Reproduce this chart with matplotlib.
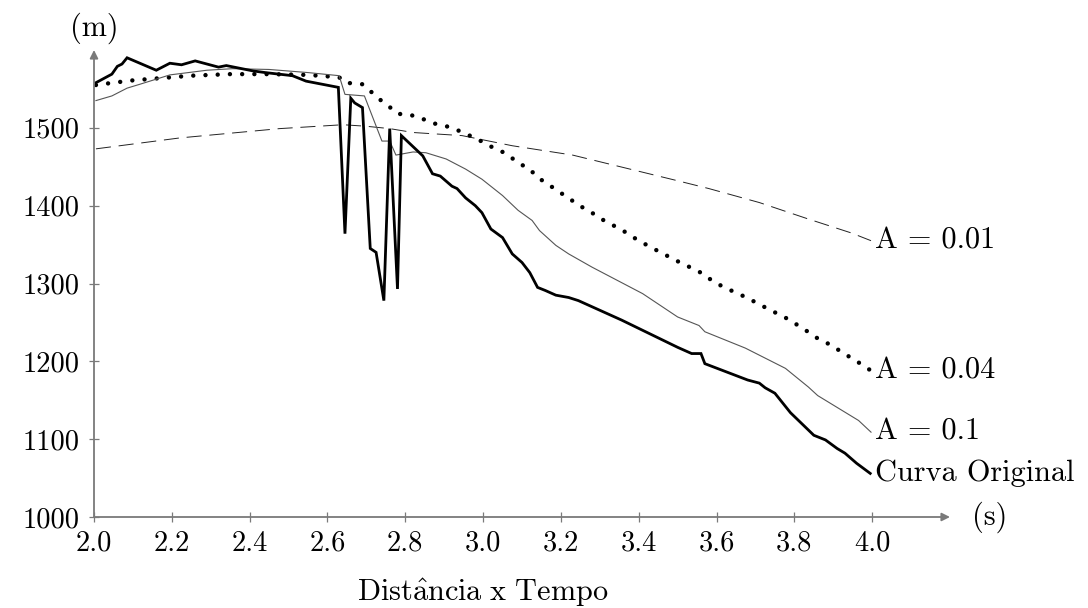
import matplotlib
matplotlib.use("Agg")
import matplotlib.pyplot as plt

plt.rcParams['font.family'] = ['cmr10', 'DejaVu Serif']
plt.rcParams['mathtext.fontset'] = 'cm'
plt.rcParams['axes.unicode_minus'] = False

# ---- data ----
orig_x = [2.005, 2.046, 2.06, 2.072, 2.085, 2.16, 2.195, 2.225, 2.26, 2.32, 2.34, 2.41, 2.44,
          2.51, 2.545, 2.628, 2.645, 2.66, 2.67, 2.69, 2.71, 2.725, 2.745, 2.76, 2.78, 2.79,
          2.845, 2.87, 2.89, 2.92, 2.933, 2.955, 2.98, 2.997, 3.02, 3.05, 3.075, 3.1, 3.12,
          3.14, 3.16, 3.187, 3.22, 3.245, 3.356, 3.5, 3.536, 3.56, 3.57, 3.68, 3.71, 3.725,
          3.75, 3.79, 3.85, 3.88, 3.91, 3.93, 3.96, 3.995]
orig_y = [1558, 1569, 1579, 1582, 1590, 1574, 1583, 1581, 1586, 1578, 1580, 1573, 1571,
          1567, 1560, 1552, 1364, 1538, 1532, 1526, 1345, 1340, 1278, 1499, 1293, 1490,
          1464, 1441, 1438, 1425, 1422, 1410, 1400, 1391, 1370, 1359, 1338, 1327, 1314,
          1295, 1291, 1285, 1282, 1278, 1253, 1218, 1210, 1210, 1197, 1176, 1172, 1166,
          1159, 1134, 1105, 1099, 1088, 1082, 1069, 1056]

a01_x = [2.005, 2.046, 2.085, 2.118, 2.195, 2.29, 2.356, 2.45, 2.55, 2.63, 2.645, 2.695,
         2.74, 2.76, 2.776, 2.82, 2.853, 2.905, 2.955, 2.997, 3.05, 3.09, 3.126, 3.145,
         3.187, 3.22, 3.28, 3.41, 3.5, 3.555, 3.57, 3.674, 3.777, 3.836, 3.86, 3.965, 3.997]
a01_y = [1535, 1541, 1551, 1556, 1568, 1574, 1576, 1575, 1571, 1567, 1543, 1541,
         1483, 1483, 1465, 1469, 1468, 1460, 1447, 1434, 1413, 1394, 1381, 1368,
         1349, 1338, 1321, 1287, 1257, 1246, 1238, 1217, 1191, 1167, 1156, 1124, 1109]

a004_x = [2.005, 2.05, 2.1, 2.15, 2.2, 2.25, 2.3, 2.35, 2.45, 2.55, 2.63, 2.645, 2.69, 2.713,
          2.733, 2.757, 2.78, 2.81, 2.838, 2.87, 2.9, 2.93, 2.956, 2.985, 3.01, 3.04, 3.067,
          3.09, 3.12, 3.14, 3.167, 3.19, 3.218, 3.24, 3.27, 3.295, 3.32, 3.35, 3.4, 3.456,
          3.51, 3.54, 3.567, 3.59, 3.62, 3.677, 3.73, 3.785, 3.81, 3.838, 3.864, 3.89,
          3.944, 3.97, 3.997]
a004_y = [1555, 1558, 1561, 1563, 1565, 1567, 1568, 1569, 1569, 1568, 1565, 1558, 1556, 1546,
          1537, 1528, 1518, 1517, 1513, 1506, 1503, 1498, 1492, 1486, 1478, 1472, 1464,
          1455, 1447, 1436, 1428, 1419, 1411, 1402, 1394, 1386, 1378, 1371, 1355, 1340,
          1326, 1319, 1312, 1303, 1295, 1282, 1268, 1254, 1246, 1237, 1228, 1222,
          1205, 1197, 1188]

a0001_x = [2.005, 2.22, 2.477, 2.64, 2.70, 2.76, 2.82, 2.946, 3.075, 3.23, 3.5, 3.58, 3.71,
           3.835, 3.946, 3.997]
a0001_y = [1473, 1487, 1499, 1504, 1502, 1499, 1494, 1490, 1477, 1465, 1432, 1422, 1404,
           1383, 1365, 1355]

x_ticks = [2.0, 2.2, 2.4, 2.6, 2.8, 3.0, 3.2, 3.4, 3.6, 3.8, 4.0]
x_tick_labels = ["2.0", "2.2", "2.4", "2.6", "2.8", "3.0", "3.2", "3.4", "3.6", "3.8", "4.0"]
y_ticks = [1000, 1100, 1200, 1300, 1400, 1500]
y_tick_labels = ["1000", "1100", "1200", "1300", "1400", "1500"]

series_labels = ["A = 0.01", "A = 0.04", "A = 0.1", "Curva Original"]

# ---- figure ----
W, H = 1088, 608
fig = plt.figure(figsize=(W / 100, H / 100), dpi=100)
ax = fig.add_axes([94 / W, (H - 517) / H, (950 - 94) / W, (517 - 50) / H])
ax.set_xlim(2.0, 4.2)
ax.set_ylim(1000, 1600)
for s in ax.spines.values():
    s.set_visible(False)

gray = "#7a7a7a"
fs = 20.5
fs_lab = 21.8

ax.plot(a0001_x, a0001_y, color="#222222", lw=0.7, dashes=(15.5, 8))
ax.plot(a004_x, a004_y, color="black", lw=3.2, dashes=(0.001, 2.75),
        dash_capstyle="round", solid_capstyle="round")
ax.plot(a01_x, a01_y, color="#555555", lw=0.8)
ax.plot(orig_x, orig_y, color="black", lw=2.0, solid_joinstyle="miter")

# axes with arrows
ax.annotate("", xy=(4.2, 1000), xytext=(2.0, 1000),
            arrowprops=dict(arrowstyle="-|>", color=gray, lw=1.3, mutation_scale=12,
                            shrinkA=0, shrinkB=0), annotation_clip=False)
ax.annotate("", xy=(2.0, 1600), xytext=(2.0, 1000),
            arrowprops=dict(arrowstyle="-|>", color=gray, lw=1.3, mutation_scale=12,
                            shrinkA=0, shrinkB=0), annotation_clip=False)

ax.set_xticks(x_ticks)
ax.set_xticklabels(x_tick_labels)
ax.set_yticks(y_ticks)
ax.set_yticklabels(y_tick_labels)
ax.tick_params(direction="inout", length=7, width=0.9, color=gray,
               labelsize=fs, labelcolor="black")
ax.tick_params(axis="x", pad=6)
ax.tick_params(axis="y", pad=7)

# end labels
end_y = [a0001_y[-1], a004_y[-1], a01_y[-1], orig_y[-1]]
for lab, yv in zip(series_labels, end_y):
    ax.text(4.008, yv, lab, fontsize=fs_lab, ha="left", va="center", clip_on=False)

ax.text(2.0, 1628, "(m)", fontsize=fs_lab, ha="center", va="center", clip_on=False)
ax.text(4.302, 1000, "(s)", fontsize=fs_lab, ha="center", va="center", clip_on=False)
ax.text(3.0, 903, r"$\mathrm{Dist\hat{a}ncia\ x\ Tempo}$", fontsize=fs_lab, ha="center",
        va="center", clip_on=False)

fig.savefig("out.png", dpi=100)
